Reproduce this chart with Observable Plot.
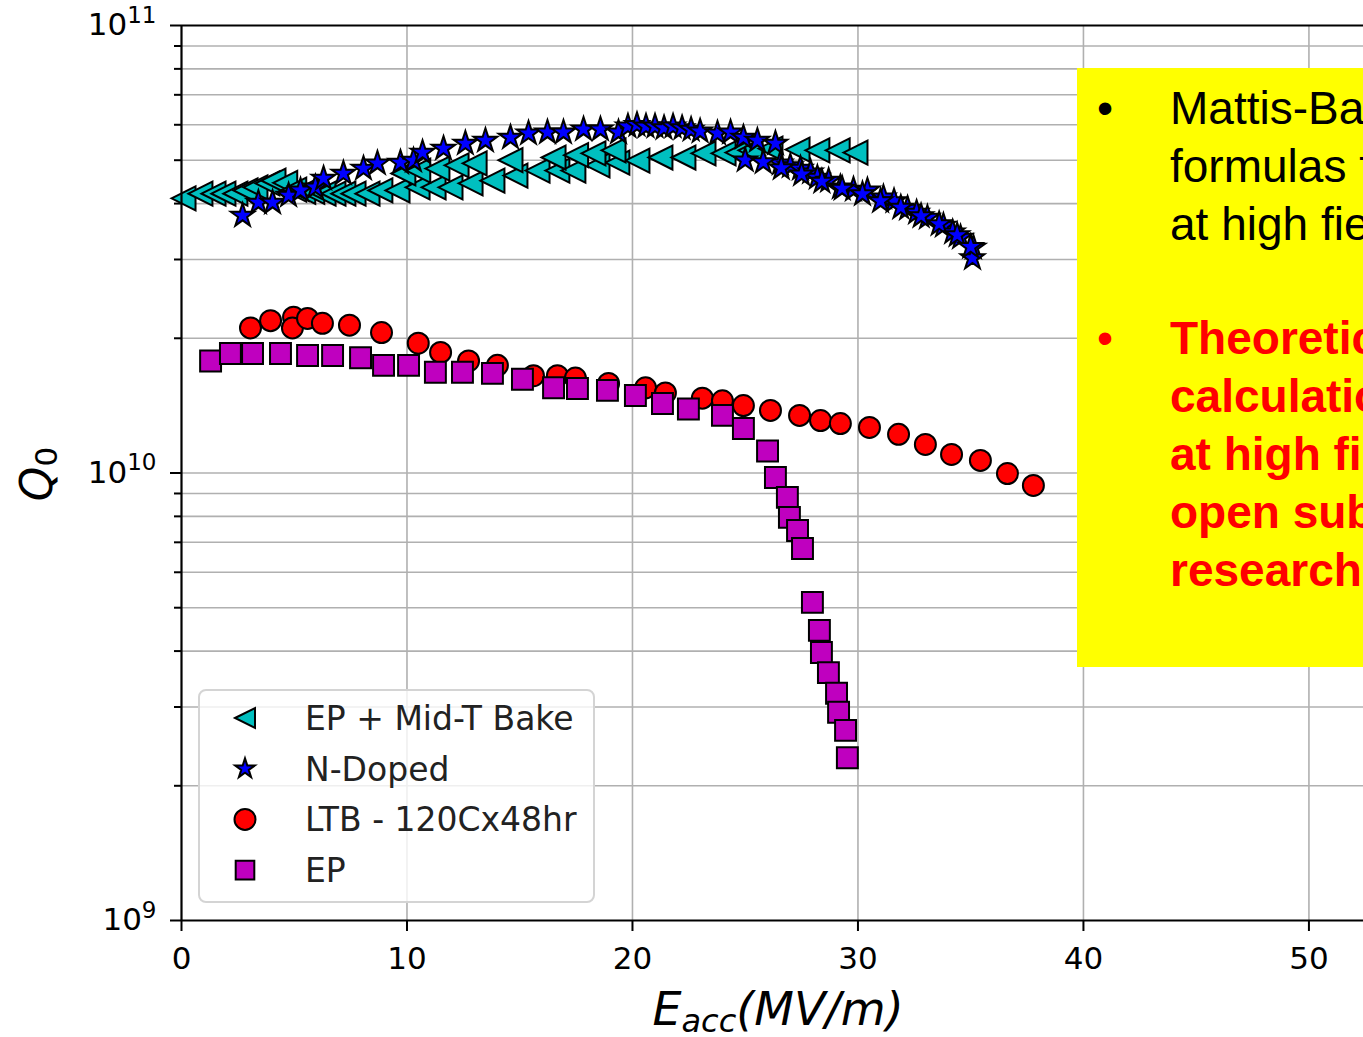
<!DOCTYPE html>
<html><head><meta charset="utf-8">
<script src="https://cdn.jsdelivr.net/npm/d3@7"></script>
<script src="https://cdn.jsdelivr.net/npm/@observablehq/plot@0.6"></script>
<style>
body{margin:0;background:#fff;}
#wrap{position:relative;width:1363px;height:1037px;overflow:hidden;}
</style></head><body><div id="wrap"></div>
<script>
// ---------- data ----------
const seriesNames = ["EP + Mid-T Bake", "N-Doped", "LTB - 120Cx48hr", "EP"];
const seriesColors = ["#00bfbf", "#0000ff", "#ff0000", "#bf00bf"];
const xTickValues = [0, 10, 20, 30, 40, 50];
const xTickLabels = ["0", "10", "20", "30", "40", "50"];
const yTickValues = [1e9, 1e10, 1e11];
const yTickBase = "10";
const yTickExponents = ["9", "10", "11"];
const yMinorTicks = [2e9,3e9,4e9,5e9,6e9,7e9,8e9,9e9,2e10,3e10,4e10,5e10,6e10,7e10,8e10,9e10];
const xLabel = ["E", "acc", "(MV/m)"];
const yLabel = ["Q", "0"];

const midTE = [0.09,0.84,1.42,1.86,2.39,2.84,3.28,3.81,4.08,4.6,5.0,5.4,5.8,6.30,6.74,7.18,7.63,8.25,8.82,9.58,10.47,11.18,11.93,12.82,13.79,14.81,15.79,16.67,17.38,18.45,19.33,20.22,21.24,22.26,23.15,24.04,24.66,25.23,26.12,27.32,28.2,29.1,29.89,
  9.84,10.5,11.35,12.2,13.0,14.59,16.5,17.5,18.27,19.16];
const midTQ = [4.11e10,4.21e10,4.21e10,4.21e10,4.21e10,4.28e10,4.35e10,4.44e10,4.5e10,4.45e10,4.3e10,4.25e10,4.25e10,4.21e10,4.21e10,4.21e10,4.21e10,4.21e10,4.28e10,4.28e10,4.35e10,4.35e10,4.35e10,4.44e10,4.5e10,4.62e10,4.74e10,4.74e10,4.74e10,4.87e10,4.94e10,4.99e10,5.07e10,5.07e10,5.18e10,5.18e10,5.2e10,5.26e10,5.31e10,5.28e10,5.26e10,5.26e10,5.2e10,
  4.67e10,4.74e10,4.79e10,4.87e10,4.92e10,5.0e10,5.07e10,5.13e10,5.18e10,5.26e10];

const nDopedE = [2.71,3.41,4.04,4.75,5.28,5.94,6.30,7.18,8.07,8.69,9.71,10.29,10.69,11.62,12.59,13.48,14.59,15.39,16.23,16.94,17.83,18.58,19.38,
  19.8,20.2,20.6,21.0,21.4,21.8,22.2,22.6,23.0,23.77,24.35,24.92,25.54,26.34,
  26.56,27.0,27.45,27.9,28.2,28.7,29.22,29.8,30.42,31.13,31.6,32.2,32.6,33.08,33.79,34.2,34.55,35.12,35.08,
  25.0,25.8,26.6,27.5,28.4,29.3,30.2,31.0,31.9,32.8,33.6,34.4,35.0];
const nDopedQ = [3.76e10,4.02e10,4.02e10,4.17e10,4.28e10,4.35e10,4.55e10,4.67e10,4.79e10,4.92e10,4.94e10,4.99e10,5.2e10,5.31e10,5.45e10,5.53e10,5.62e10,5.74e10,5.77e10,5.77e10,5.86e10,5.86e10,5.77e10,
  5.95e10,6.0e10,5.95e10,5.95e10,5.9e10,5.95e10,5.9e10,5.85e10,5.8e10,5.74e10,5.77e10,5.62e10,5.53e10,5.45e10,
  4.92e10,4.85e10,4.79e10,4.7e10,4.57e10,4.5e10,4.35e10,4.3e10,4.28e10,4.13e10,4.05e10,3.9e10,3.82e10,3.72e10,3.57e10,3.45e10,3.36e10,3.19e10,3.02e10,
  5.0e10,4.95e10,4.8e10,4.65e10,4.48e10,4.32e10,4.2e10,4.05e10,3.92e10,3.75e10,3.6e10,3.4e10,3.2e10];

const ltbE = [3.06,3.95,4.97,4.92,5.59,6.25,7.45,8.87,10.5,11.49,12.73,14.01,15.61,16.67,17.47,18.94,20.58,21.46,23.10,23.99,24.92,26.12,27.41,28.34,29.22,30.51,31.80,32.99,34.15,35.43,36.63,37.78];
const ltbQ = [2.11e10,2.19e10,2.23e10,2.11e10,2.215e10,2.16e10,2.14e10,2.06e10,1.95e10,1.86e10,1.78e10,1.74e10,1.65e10,1.65e10,1.63e10,1.585e10,1.55e10,1.51e10,1.47e10,1.45e10,1.415e10,1.38e10,1.345e10,1.31e10,1.29e10,1.264e10,1.22e10,1.158e10,1.10e10,1.067e10,9.97e9,9.38e9];

const epE = [1.29,2.17,3.15,4.39,5.59,6.70,7.94,8.96,10.07,11.26,12.46,13.79,15.12,16.50,17.56,18.89,20.13,21.33,22.48,23.99,24.92,25.99,26.34,26.87,26.96,27.32,27.54,27.98,28.29,28.38,28.69,29.05,29.14,29.45,29.53];
const epQ = [1.78e10,1.85e10,1.85e10,1.85e10,1.83e10,1.83e10,1.81e10,1.74e10,1.74e10,1.68e10,1.68e10,1.67e10,1.62e10,1.55e10,1.545e10,1.53e10,1.49e10,1.43e10,1.39e10,1.345e10,1.257e10,1.12e10,9.77e9,8.82e9,7.96e9,7.44e9,6.78e9,5.14e9,4.45e9,3.97e9,3.58e9,3.22e9,2.92e9,2.66e9,2.31e9];

const noteBlack = ["Mattis-Bardeen", "formulas fail", "at high fields"];
const noteRed = ["Theoretical", "calculations", "at high fields:", "open subject of", "research"];

// ---------- build ----------
const rows = (E, Q) => E.map((e, i) => ({E: e, Q: Q[i]}));
const triangleLeft = {draw(ctx, size) {
  const h = Math.sqrt(size / Math.PI);
  ctx.moveTo(-h, 0); ctx.lineTo(h, -h); ctx.lineTo(h, h); ctx.closePath();
}};
const gridStyle = {stroke: "#b0b0b0", strokeOpacity: 1, strokeWidth: 1.6};
const dotStyle = {x: "E", y: "Q", stroke: "#000", strokeWidth: 2};

const chart = Plot.plot({
  width: 1363, height: 1037,
  marginLeft: 181, marginRight: 0, marginTop: 25, marginBottom: 117,
  x: {domain: [0, 52.42]},
  y: {type: "log", domain: [1e9, 1e11]},
  style: {fontFamily: "DejaVu Sans", fontSize: "31px", color: "#000", background: "#fff", overflow: "visible"},
  marks: [
    Plot.gridX(xTickValues.slice(1), gridStyle),
    Plot.gridY([...yMinorTicks, 1e10], gridStyle),
    Plot.dot(rows(midTE, midTQ), {...dotStyle, symbol: triangleLeft, r: 12, fill: seriesColors[0]}),
    Plot.dot(rows(nDopedE, nDopedQ), {...dotStyle, symbol: "star", r: 7.4, fill: seriesColors[1]}),
    Plot.dot(rows(ltbE, ltbQ), {...dotStyle, symbol: "circle", r: 10.5, fill: seriesColors[2]}),
    Plot.dot(rows(epE, epQ), {...dotStyle, symbol: "square", r: 11.8, fill: seriesColors[3]}),
    Plot.ruleX([0], {stroke: "#000", strokeWidth: 2.2}),
    Plot.ruleY([1e9], {stroke: "#000", strokeWidth: 2.2}),
    Plot.ruleY([1e11], {stroke: "#000", strokeWidth: 2.2}),
    Plot.axisX({ticks: xTickValues, tickSize: 11, tickPadding: 15, strokeWidth: 2,
      tickFormat: (d) => xTickLabels[xTickValues.indexOf(d)], label: null}),
    Plot.axisY({ticks: yTickValues, tickSize: 11, tickPadding: 14, strokeWidth: 2,
      tickFormat: (d) => yTickBase + "^" + yTickExponents[yTickValues.indexOf(d)], label: null}),
    Plot.axisY({ticks: yMinorTicks, tickSize: 7, strokeWidth: 2, tickFormat: () => "", label: null})
  ]
});
document.getElementById("wrap").appendChild(chart);

const svg = d3.select(chart);
// superscript y tick labels
svg.selectAll("text").each(function() {
  const t = d3.select(this);
  if (this.childNodes.length === 1 && this.textContent.startsWith(yTickBase + "^")) {
    const exp = this.textContent.split("^")[1];
    t.text(null);
    t.append("tspan").text(yTickBase);
    t.append("tspan").attr("font-size", "23px").attr("dy", "-0.55em").text(exp);
  }
});

// axis labels
const xl = svg.append("text").attr("x", 778).attr("y", 1025).attr("text-anchor", "middle")
  .attr("font-family", "DejaVu Sans").attr("font-size", 46).attr("font-style", "italic").attr("fill", "#000");
xl.append("tspan").text(xLabel[0]);
xl.append("tspan").attr("dy", 7).attr("font-size", 32).text(xLabel[1]);
xl.append("tspan").attr("dy", -7).text(xLabel[2]);

const yl = svg.append("text").attr("transform", "translate(52,474) rotate(-90)").attr("text-anchor", "middle")
  .attr("font-family", "DejaVu Sans").attr("font-size", 44).attr("fill", "#000");
yl.append("tspan").attr("font-style", "italic").text(yLabel[0]);
yl.append("tspan").attr("dy", 5).attr("font-size", 31).text(yLabel[1]);

// legend
const lg = svg.append("g").attr("text-anchor", "start");
lg.append("rect").attr("x", 199).attr("y", 690).attr("width", 395).attr("height", 212).attr("rx", 7)
  .attr("fill", "#fff").attr("fill-opacity", 0.8).attr("stroke", "#d4d4d4").attr("stroke-width", 2);
const legendSymbols = [triangleLeft, d3.symbolStar, d3.symbolCircle, d3.symbolSquare];
const legendR = [10, 6.2, 10.5, 10.5];
seriesNames.forEach((name, i) => {
  const cy = 718 + i * 50.7;
  lg.append("path").attr("transform", `translate(245,${cy})`)
    .attr("d", d3.symbol(legendSymbols[i], legendR[i] * legendR[i] * Math.PI)())
    .attr("fill", seriesColors[i]).attr("stroke", "#000").attr("stroke-width", 2);
  lg.append("text").attr("x", 305).attr("y", cy + 12).attr("text-anchor", "start").attr("font-family", "DejaVu Sans")
    .attr("font-size", 33).attr("fill", "#222").text(name);
});

// yellow note box
const nb = svg.append("g").attr("text-anchor", "start");
nb.append("rect").attr("x", 1077).attr("y", 68).attr("width", 400).attr("height", 599).attr("fill", "#ffff00");
const noteFont = "Liberation Sans, Arial, sans-serif";
nb.append("text").attr("x", 1105).attr("y", 124).attr("text-anchor", "middle").attr("font-family", noteFont)
  .attr("font-size", 46).attr("fill", "#000").text("•");
noteBlack.forEach((t, i) => nb.append("text").attr("x", 1170).attr("y", 124 + 58 * i).attr("text-anchor", "start")
  .attr("font-family", noteFont).attr("font-size", 46).attr("fill", "#000").text(t));
nb.append("text").attr("x", 1105).attr("y", 354).attr("text-anchor", "middle").attr("font-family", noteFont)
  .attr("font-size", 46).attr("fill", "#ff0000").text("•");
noteRed.forEach((t, i) => nb.append("text").attr("x", 1170).attr("y", 354 + 58 * i).attr("text-anchor", "start")
  .attr("font-family", noteFont).attr("font-weight", "bold").attr("font-size", 46).attr("fill", "#ff0000").text(t));
</script></body></html>
